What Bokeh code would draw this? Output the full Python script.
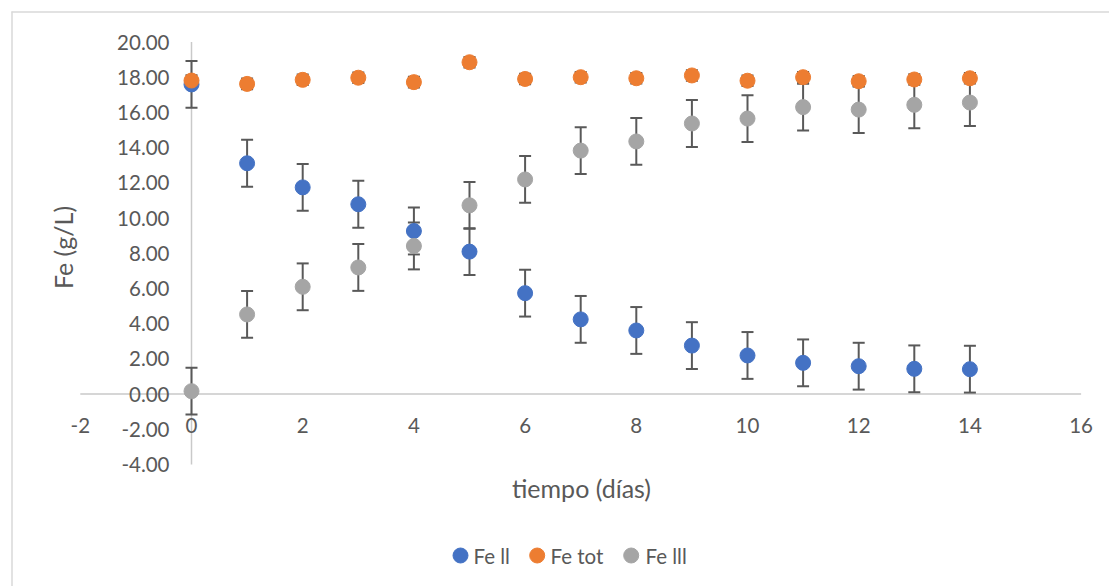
import math
from bokeh.plotting import figure
from bokeh.models import Range1d
from bokeh.core.properties import value
from bokeh.embed import file_html
from bokeh.resources import INLINE

# ---------------- data ----------------
dias = [0, 1, 2, 3, 4, 5, 6, 7, 8, 9, 10, 11, 12, 13, 14]
fe_ii = [17.59, 13.11, 11.74, 10.78, 9.26, 8.09, 5.73, 4.24, 3.61, 2.75, 2.19, 1.77, 1.58, 1.43, 1.41]
fe_tot = [17.81, 17.62, 17.85, 17.97, 17.72, 18.85, 17.90, 18.00, 17.94, 18.10, 17.80, 18.00, 17.77, 17.87, 17.94]
fe_iii = [0.16, 4.52, 6.09, 7.19, 8.41, 10.72, 12.19, 13.83, 14.35, 15.37, 15.65, 16.30, 16.16, 16.43, 16.56]
err_ii = [1.33, 1.33, 1.33, 1.33, 1.33, 1.33, 1.33, 1.33, 1.33, 1.33, 1.33, 1.33, 1.33, 1.33, 1.33]
err_tot = [0.30, 0.30, 0.30, 0.30, 0.30, 0.30, 0.30, 0.30, 0.30, 0.30, 0.30, 0.30, 0.30, 0.30, 0.30]
err_iii = [1.33, 1.33, 1.33, 1.33, 1.33, 1.33, 1.33, 1.33, 1.33, 1.33, 1.33, 1.33, 1.33, 1.33, 1.33]

series_names = ["Fe ll", "Fe tot", "Fe lll"]
x_ticks = [-2, 0, 2, 4, 6, 8, 10, 12, 14, 16]
y_ticks = [-4, -2, 0, 2, 4, 6, 8, 10, 12, 14, 16, 18, 20]
x_tick_labels = [str(t) for t in x_ticks]
y_tick_labels = ["%.2f" % t for t in y_ticks]
x_title = "tiempo (días)"
y_title = "Fe (g/L)"

# ---------------- layout ----------------
W, H = 1109, 586
PX_X0, PX_PER_X = 191.0, 55.6     # pixel of x=0, pixels per x unit
PY_Y0, PY_PER_Y = 393.5, 17.6     # pixel of y=0, pixels per y unit

def px2x(px):
    return (px - PX_X0) / PX_PER_X

def py2y(py):
    return (PY_Y0 - py) / PY_PER_Y

FONT = "Lato"
TXT = "#595959"
BLUE, ORANGE, GRAY = "#4472C4", "#ED7D31", "#A5A5A5"
ERR = "#595959"
AXIS = "#c9c9c9"
BORDER = "#d9d9d9"

p = figure(width=W, height=H, output_backend="svg", toolbar_location=None,
           x_range=Range1d(px2x(0), px2x(W)), y_range=Range1d(py2y(H), py2y(0)),
           x_axis_location=None, y_axis_location=None, min_border=0)
p.outline_line_color = None
p.grid.visible = False
p.background_fill_color = "white"
p.border_fill_color = "white"

# chart border (top and left visible)
p.segment(x0=[px2x(11)], y0=[py2y(11.5)], x1=[px2x(W)], y1=[py2y(11.5)], line_color=BORDER, line_width=1.5)
p.segment(x0=[px2x(11.5)], y0=[py2y(11)], x1=[px2x(11.5)], y1=[py2y(H)], line_color=BORDER, line_width=1.5)

# axes lines crossing at 0
p.segment(x0=[x_ticks[0]], y0=[0], x1=[x_ticks[-1]], y1=[0], line_color=AXIS, line_width=1.5)
p.segment(x0=[0], y0=[y_ticks[0]], x1=[0], y1=[y_ticks[-1]], line_color=AXIS, line_width=1.5)

# tick labels
p.text(x=x_ticks, y=[py2y(425)] * len(x_ticks), text=x_tick_labels,
       text_font=value(FONT), text_font_size="20.5px", text_color=TXT,
       text_align="center", text_baseline="middle")
p.text(x=[px2x(169)] * len(y_ticks), y=y_ticks, text=y_tick_labels,
       text_font=value(FONT), text_font_size="20.5px", text_color=TXT,
       text_align="right", text_baseline="middle")

# axis titles
p.text(x=[px2x(581)], y=[py2y(487)], text=[x_title], text_font=value(FONT),
       text_font_size="25px", text_color=TXT, text_align="center", text_baseline="middle")
p.text(x=[px2x(62)], y=[py2y(247)], text=[y_title], text_font=value(FONT), angle=math.pi / 2,
       text_font_size="25px", text_color=TXT, text_align="center", text_baseline="middle")

# error bars
for vals, errs in ((fe_ii, err_ii), (fe_tot, err_tot), (fe_iii, err_iii)):
    lo = [v - e for v, e in zip(vals, errs)]
    hi = [v + e for v, e in zip(vals, errs)]
    p.segment(x0=dias, y0=lo, x1=dias, y1=hi, line_color=ERR, line_width=2)
    p.scatter(x=dias + dias, y=lo + hi, marker="dash", size=12, line_color=ERR, line_width=2)

# markers
for vals, col in ((fe_ii, BLUE), (fe_tot, ORANGE), (fe_iii, GRAY)):
    p.scatter(x=dias, y=vals, marker="circle", size=15, fill_color=col, line_color=col)

# legend (manual)
leg_y = py2y(555)
leg_dot_px = [460, 536.7, 630.7]
leg_txt_px = [473, 550, 645]
p.scatter(x=[px2x(v) for v in leg_dot_px], y=[leg_y] * 3, marker="circle", size=15,
          fill_color=[BLUE, ORANGE, GRAY], line_color=[BLUE, ORANGE, GRAY])
p.text(x=[px2x(v) for v in leg_txt_px], y=[leg_y] * 3, text=series_names,
       text_font=value(FONT), text_font_size="20.5px", text_color=TXT,
       text_align="left", text_baseline="middle")

open("out.html", "w").write(file_html(p, INLINE))
